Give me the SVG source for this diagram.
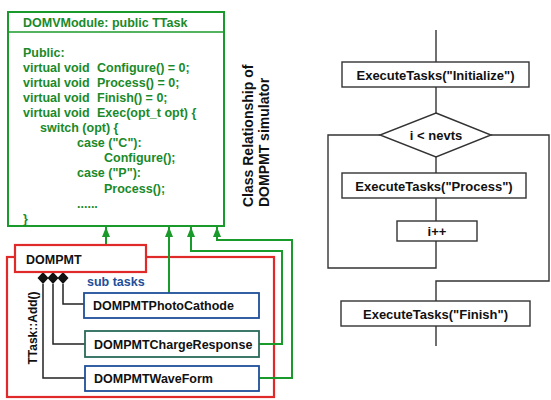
<svg xmlns="http://www.w3.org/2000/svg" width="551" height="400" viewBox="0 0 551 400">
<defs>
<style>
text{font-family:"Liberation Sans",Arial,sans-serif;font-weight:bold}
.g{fill:#1a8a2a;font-size:12.5px}
.k{fill:#111;font-size:12.5px}
.f{fill:#111;font-size:13px;text-anchor:middle}
.gl{fill:none;stroke:#1a9a2a;stroke-width:2}
.bl{fill:none;stroke:#222;stroke-width:1.5}
.fl{fill:none;stroke:#333;stroke-width:1.4}
.fb{fill:#fff;stroke:#333;stroke-width:1.4}
</style>
<marker id="ah" viewBox="0 0 10 8" refX="10" refY="4" markerWidth="10" markerHeight="8" markerUnits="userSpaceOnUse" orient="auto">
<path d="M0,0 L10,4 L0,8 Z" fill="#1a9a2a"/>
</marker>
</defs>
<rect width="551" height="400" fill="#fff"/>

<g id="container-dompmt">
<rect x="7" y="257" width="267" height="140" fill="none" stroke="#e02a2a" stroke-width="2.2"/>
</g>

<g id="connectors">
<path class="gl" d="M106,245 V227" marker-end="url(#ah)"/>
<path class="gl" d="M169,293 V227" marker-end="url(#ah)"/>
<path class="gl" d="M259,344 H282 V251 H191 V227" marker-end="url(#ah)"/>
<path class="gl" d="M259,378 H292 V240 H217 V227" marker-end="url(#ah)"/>
<path class="bl" d="M63,284 V304 H84"/>
<path class="bl" d="M53,284 V344 H85"/>
<path class="bl" d="M43,284 V378 H85"/>
<path d="M43,272 L48.5,278 L43,284 L37.5,278 Z M53,272 L58.5,278 L53,284 L47.5,278 Z M63,272 L68.5,278 L63,284 L57.5,278 Z" fill="#111"/>
</g>

<g id="domvmodule">
<rect x="8" y="12" width="216" height="214" fill="#fff" stroke="#1a9a2a" stroke-width="2"/>
<line x1="8" y1="32" x2="224" y2="32" stroke="#1a9a2a" stroke-width="1.5"/>
<text class="g" x="23" y="27">DOMVModule: public TTask</text>
<text class="g" x="23" y="57">Public:</text>
<text class="g" y="72"><tspan x="23">virtual void</tspan><tspan x="97">Configure() = 0;</tspan></text>
<text class="g" y="87"><tspan x="23">virtual void</tspan><tspan x="97">Process() = 0;</tspan></text>
<text class="g" y="102"><tspan x="23">virtual void</tspan><tspan x="97">Finish() = 0;</tspan></text>
<text class="g" y="117"><tspan x="23">virtual void</tspan><tspan x="97">Exec(opt_t opt) {</tspan></text>
<text class="g" x="40" y="132">switch (opt) {</text>
<text class="g" x="77" y="147">case ("C"):</text>
<text class="g" x="104" y="162">Configure();</text>
<text class="g" x="77" y="177">case ("P"):</text>
<text class="g" x="104" y="193">Process();</text>
<text class="g" x="77" y="208">......</text>
<text class="g" x="23" y="223">}</text>
</g>

<g id="title">
<text class="k" style="font-size:14px" transform="translate(253,207) rotate(-90)">Class Relationship of</text>
<text class="k" style="font-size:14px" transform="translate(269,207) rotate(-90)">DOMPMT simulator</text>
</g>

<g id="dompmt">
<rect x="15" y="245" width="131" height="27" fill="#fff" stroke="#e02a2a" stroke-width="2.2"/>
<text class="k" x="26" y="264">DOMPMT</text>
</g>

<g id="label-add">
<text class="k" style="font-size:12px;text-anchor:middle" transform="translate(37,328) rotate(-90)">TTask::Add()</text>
</g>

<g id="label-subtasks">
<text x="87" y="286" style="fill:#1e4f9a;font-size:12.5px">sub tasks</text>
</g>

<g id="photocathode">
<rect x="84" y="293" width="175" height="25" fill="#fff" stroke="#1e4f9a" stroke-width="1.8"/>
<text class="k" x="93" y="310">DOMPMTPhotoCathode</text>
</g>

<g id="chargeresponse">
<rect x="85" y="331" width="174" height="26" fill="#fff" stroke="#2a6a5a" stroke-width="1.8"/>
<text class="k" x="94" y="348.5">DOMPMTChargeResponse</text>
</g>

<g id="waveform">
<rect x="85" y="366" width="174" height="25" fill="#fff" stroke="#1e4f9a" stroke-width="1.8"/>
<text class="k" x="94" y="383">DOMPMTWaveForm</text>
</g>

<g id="flow-connectors">
<path class="fl" d="M436,30 V62"/>
<path class="fl" d="M436,87 V113"/>
<path class="fl" d="M436,157 V173"/>
<path class="fl" d="M436,198 V221"/>
<path class="fl" d="M436,241 V268 H328 V135 H380"/>
<path class="fl" d="M491,135 H549 V281 H436 V301"/>
<path class="fl" d="M436,326 V346"/>
</g>

<g id="initialize">
<rect class="fb" x="342" y="62" width="187" height="25"/>
<text class="f" x="435.5" y="79.5">ExecuteTasks("Initialize")</text>
</g>

<g id="condition">
<polygon class="fb" points="436,113 491,135 436,157 380,135"/>
<text class="f" x="436" y="140">i &lt; nevts</text>
</g>

<g id="process">
<rect class="fb" x="342" y="173" width="184" height="25"/>
<text class="f" x="434" y="190.5">ExecuteTasks("Process")</text>
</g>

<g id="increment">
<rect class="fb" x="397" y="221" width="80" height="20"/>
<text class="f" x="437" y="235.5">i++</text>
</g>

<g id="finish">
<rect class="fb" x="341" y="301" width="189" height="25"/>
<text class="f" x="435.5" y="318.5">ExecuteTasks("Finish")</text>
</g>
</svg>
